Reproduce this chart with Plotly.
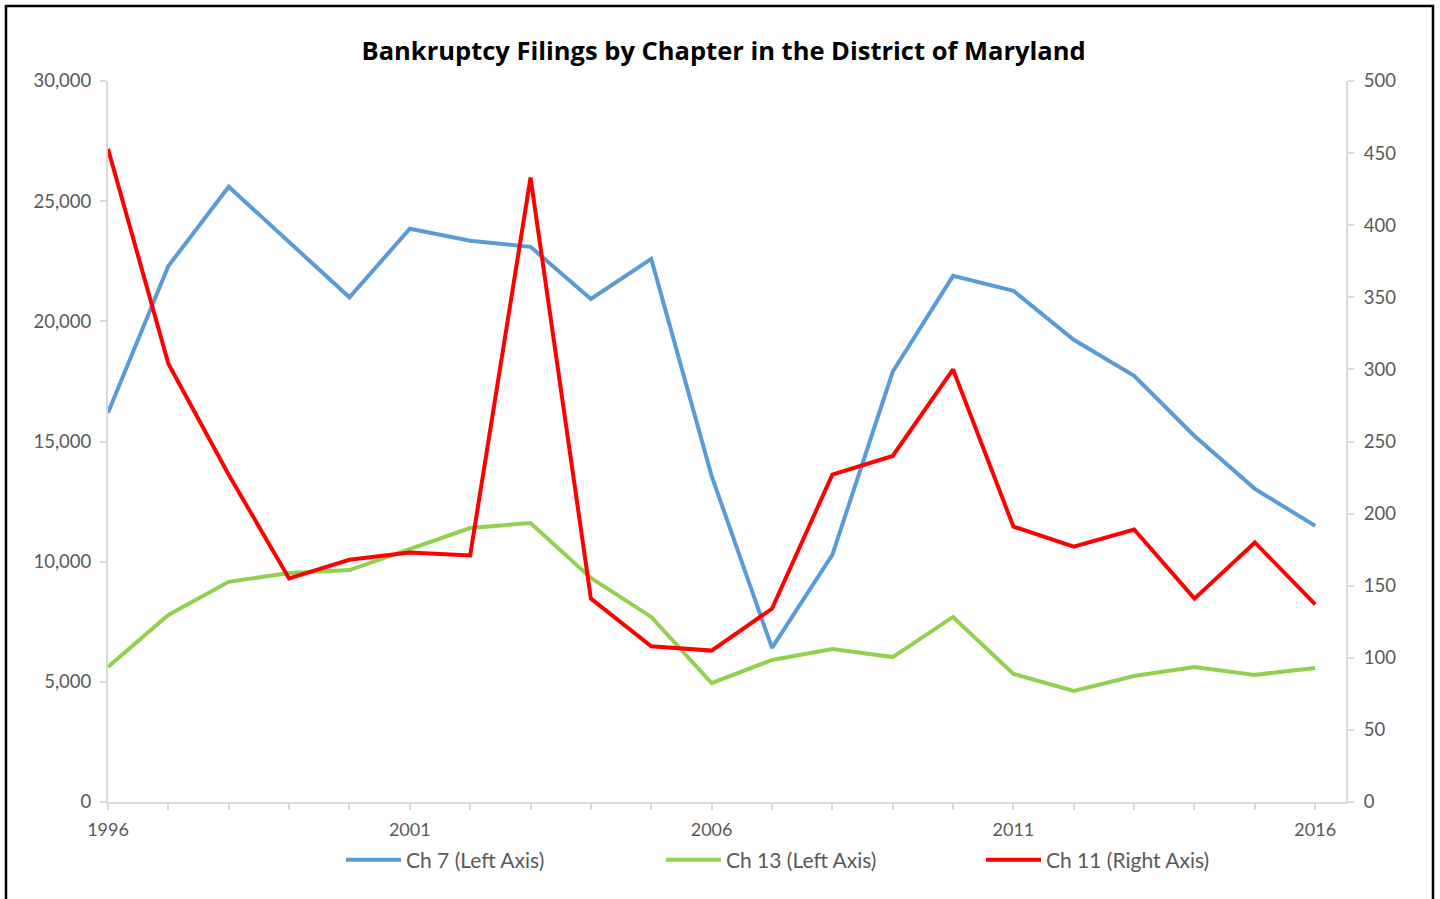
import plotly.graph_objects as go

years = list(range(1996, 2017))
ch7 = [16200, 22300, 25600, 23300, 21000, 23850, 23350, 23100, 20930, 22600,
       13570, 6410, 10280, 17900, 21890, 21270, 19230, 17730, 15230, 13030, 11490]
ch13 = [5620, 7780, 9160, 9530, 9650, 10530, 11400, 11610, 9320, 7700,
        4950, 5910, 6370, 6030, 7700, 5330, 4620, 5240, 5620, 5290, 5580]
ch11 = [453, 304, 227, 155, 168, 173, 171, 433, 141, 108,
        105, 134, 227, 240, 300, 191, 177, 189, 141, 180, 137]
xtick_labels = [1996, 2001, 2006, 2011, 2016]

FONT = "Lato"
GRAY = "#595959"
AX = "#D9D9D9"

fig = go.Figure()
fig.add_trace(go.Scatter(x=years, y=ch7, mode="lines", name="Ch 7 (Left Axis)",
                         line=dict(color="#5B9BD5", width=4)))
fig.add_trace(go.Scatter(x=years, y=ch13, mode="lines", name="Ch 13 (Left Axis)",
                         line=dict(color="#92D050", width=4)))
fig.add_trace(go.Scatter(x=years, y=ch11, mode="lines", name="Ch 11 (Right Axis)",
                         line=dict(color="#FF0000", width=4), yaxis="y2"))

L, R, T, B = 108, 94, 81, 97
W, H = 1440, 899
pw, ph = W - L - R, H - T - B

def px(x):
    return (x - L) / pw

def py(y):
    return (H - B - y) / ph

fig.update_layout(
    width=W, height=H,
    margin=dict(l=L, r=R, t=T, b=B),
    paper_bgcolor="white", plot_bgcolor="white",
    font=dict(family=FONT, color=GRAY, size=18),
    title=dict(text="<b>Bankruptcy Filings by Chapter in the District of Maryland</b>",
               x=716 / W, xref="paper", xanchor="center",
               y=1 - 51 / H, yanchor="middle",
               font=dict(family="Open Sans", size=25.5, color="black")),
    xaxis=dict(range=[1996, 2016.51], tickmode="array", tickvals=xtick_labels,
               ticks="outside", ticklen=6, tickcolor=AX, tickwidth=2,
               showline=True, linecolor=AX, linewidth=2, showgrid=False, zeroline=False,
               minor=dict(dtick=1, tick0=1996, ticks="outside", ticklen=6, tickcolor=AX, tickwidth=2,
                          showgrid=False),
               tickfont=dict(size=18, color=GRAY), ticklabelstandoff=4),
    yaxis=dict(range=[0, 30000], dtick=5000, tickformat=",", ticks="outside", ticklen=6,
               tickcolor=AX, tickwidth=2, showline=True, linecolor=AX, linewidth=2,
               showgrid=False, zeroline=False, tickfont=dict(size=18.5, color=GRAY),
               ticklabelstandoff=5),
    yaxis2=dict(range=[0, 500], dtick=50, overlaying="y", side="right", ticks="outside",
                ticklen=6, tickcolor=AX, tickwidth=2, showline=True, linecolor=AX, linewidth=2,
                showgrid=False, zeroline=False, tickfont=dict(size=18.5, color=GRAY),
                ticklabelstandoff=6),
    legend=dict(orientation="h", x=px(821), xanchor="center", y=py(860), yanchor="middle",
                font=dict(size=21, color=GRAY), entrywidth=250, itemwidth=55,
                bgcolor="rgba(0,0,0,0)"),
    showlegend=True,
)

fig.add_shape(type="rect", xref="paper", yref="paper",
              x0=px(6), x1=px(1433), y0=py(6), y1=py(960),
              line=dict(color="black", width=2.5), fillcolor="rgba(0,0,0,0)", layer="below")

fig.write_html("out.html", post_script="document.body.style.margin='0';",
               config={"displayModeBar": False})
